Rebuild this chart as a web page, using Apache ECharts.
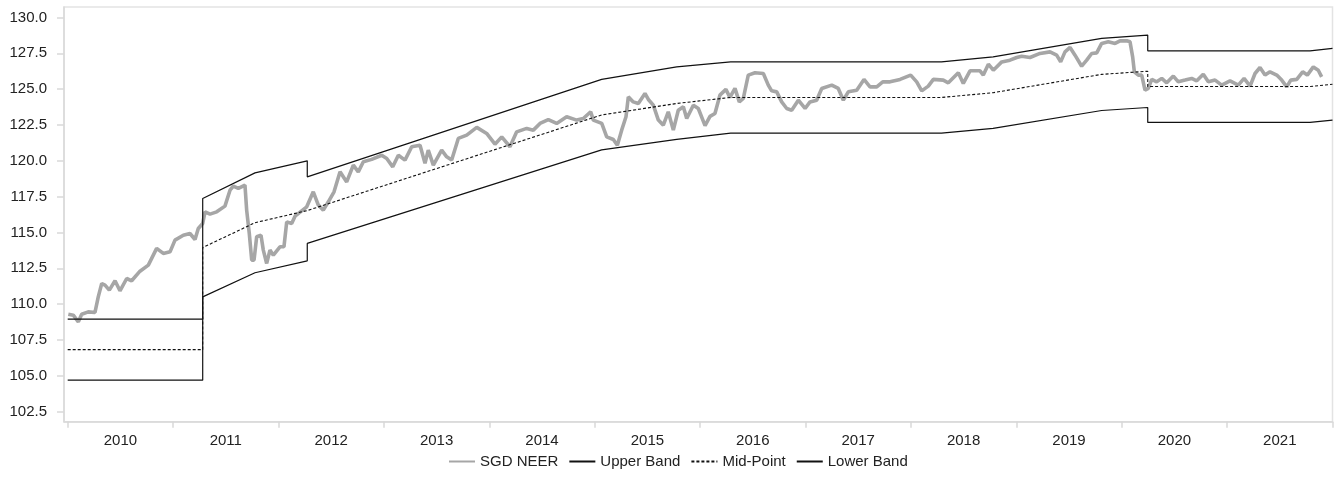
<!DOCTYPE html>
<html>
<head>
<meta charset="utf-8">
<script src="https://cdn.jsdelivr.net/npm/echarts@6/dist/echarts.min.js"></script>
<style>
html,body{margin:0;padding:0;background:#fff;}
#chart{width:1336px;height:497px;}
</style>
</head>
<body>
<div id="chart"></div>
<script>
// ---- data (decimal years) ----
var neerYears = [2010.006,2010.053,2010.101,2010.133,2010.195,2010.259,2010.290,2010.323,2010.354,2010.395,2010.449,2010.496,2010.560,2010.607,2010.686,2010.765,2010.844,2010.907,2010.971,2011.018,2011.097,2011.160,2011.208,2011.239,2011.281,2011.303,2011.350,2011.414,2011.492,2011.540,2011.571,2011.619,2011.682,2011.698,2011.723,2011.746,2011.768,2011.793,2011.834,2011.856,2011.888,2011.919,2011.951,2012.014,2012.052,2012.078,2012.125,2012.157,2012.268,2012.330,2012.378,2012.425,2012.473,2012.527,2012.584,2012.647,2012.710,2012.757,2012.805,2012.884,2012.979,2013.027,2013.084,2013.137,2013.200,2013.264,2013.343,2013.390,2013.421,2013.469,2013.548,2013.596,2013.643,2013.706,2013.786,2013.881,2013.975,2014.054,2014.118,2014.196,2014.260,2014.355,2014.418,2014.481,2014.560,2014.639,2014.734,2014.829,2014.892,2014.962,2014.987,2015.067,2015.114,2015.177,2015.215,2015.256,2015.297,2015.319,2015.366,2015.414,2015.477,2015.509,2015.556,2015.604,2015.651,2015.698,2015.746,2015.793,2015.841,2015.873,2015.936,2015.983,2016.047,2016.094,2016.141,2016.188,2016.245,2016.283,2016.331,2016.372,2016.410,2016.457,2016.521,2016.600,2016.647,2016.679,2016.727,2016.774,2016.822,2016.869,2016.932,2016.996,2017.043,2017.106,2017.154,2017.249,2017.311,2017.359,2017.406,2017.486,2017.555,2017.612,2017.676,2017.733,2017.802,2017.897,2017.998,2018.055,2018.103,2018.165,2018.213,2018.307,2018.355,2018.450,2018.497,2018.561,2018.656,2018.687,2018.735,2018.782,2018.862,2018.940,2019.004,2019.051,2019.130,2019.225,2019.320,2019.383,2019.421,2019.462,2019.510,2019.557,2019.620,2019.668,2019.715,2019.763,2019.810,2019.873,2019.937,2019.984,2020.048,2020.079,2020.104,2020.120,2020.158,2020.190,2020.221,2020.252,2020.285,2020.332,2020.380,2020.427,2020.490,2020.537,2020.601,2020.664,2020.712,2020.774,2020.822,2020.886,2020.949,2021.028,2021.106,2021.161,2021.218,2021.265,2021.312,2021.360,2021.407,2021.471,2021.518,2021.566,2021.604,2021.661,2021.717,2021.761,2021.818,2021.865,2021.897];
var neerValues = [109.30,109.23,108.77,109.30,109.46,109.42,110.51,111.44,111.33,110.98,111.63,110.93,111.79,111.63,112.30,112.72,113.89,113.54,113.65,114.47,114.81,114.93,114.51,115.28,115.63,116.44,116.28,116.44,116.84,117.95,118.23,118.07,118.30,116.56,114.93,113.07,113.07,114.70,114.81,113.77,112.84,113.77,113.42,114.00,114.00,115.74,115.63,116.14,116.79,117.84,116.91,116.56,117.14,117.84,119.23,118.53,119.70,119.23,119.93,120.10,120.39,120.16,119.58,120.39,120.05,120.98,121.09,119.82,120.74,119.70,120.74,120.28,120.05,121.56,121.79,122.33,121.91,121.16,121.67,120.98,122.02,122.26,122.14,122.61,122.88,122.61,123.07,122.84,122.95,123.42,122.84,122.61,121.67,121.49,121.09,122.14,123.07,124.46,124.11,124.00,124.70,124.28,123.88,122.84,122.49,123.42,122.14,123.53,123.77,122.95,123.88,123.65,122.45,123.10,123.30,124.58,124.98,124.42,125.05,124.11,124.35,125.98,126.14,126.09,125.28,124.88,124.81,124.11,123.65,123.53,124.23,123.65,124.11,124.23,125.05,125.28,125.05,124.23,124.81,124.93,125.68,125.16,125.16,125.51,125.51,125.68,125.98,125.51,124.88,125.21,125.68,125.63,125.44,126.14,125.40,126.28,126.28,125.98,126.74,126.32,126.90,127.02,127.21,127.30,127.21,127.49,127.60,127.37,126.90,127.60,127.91,127.37,126.60,127.02,127.49,127.53,128.19,128.30,128.19,128.37,128.37,128.30,127.25,126.21,125.98,125.98,124.93,125.05,125.68,125.51,125.75,125.44,125.91,125.51,125.63,125.75,125.58,126.04,125.51,125.63,125.28,125.58,125.28,125.75,125.21,126.09,126.51,125.98,126.21,125.98,125.63,125.16,125.63,125.68,126.21,125.98,126.55,126.32,125.86];

var bandYears = [2010.0,2011.281,2011.281,2011.777,2012.273,2012.273,2015.066,2015.778,2016.29,2018.29,2018.78,2019.81,2020.247,2020.247,2021.787,2022.0];
var upperBand = [108.95,108.95,117.37,119.16,120.00,118.88,125.68,126.55,126.90,126.90,127.25,128.54,128.77,127.67,127.67,127.84];
var midPoint  = [106.83,106.83,113.95,115.68,116.53,116.53,123.20,124.00,124.42,124.42,124.75,126.03,126.25,125.18,125.18,125.34];
var lowerBand = [104.70,104.70,110.51,112.19,113.02,114.24,120.76,121.50,121.93,121.93,122.26,123.51,123.72,122.68,122.68,122.84];

var yearTicks = [2010,2011,2012,2013,2014,2015,2016,2017,2018,2019,2020,2021,2022];
var yearLabelPos = [2010.5,2011.5,2012.5,2013.5,2014.5,2015.5,2016.5,2017.5,2018.5,2019.5,2020.5,2021.5];
var yTicks = [102.5,105,107.5,110,112.5,115,117.5,120,122.5,125,127.5,130];

function pairs(xs, ys){ return xs.map(function(x,i){ return [x, ys[i]]; }); }

var chart = echarts.init(document.getElementById('chart'), null, {renderer:'canvas'});
var FONT = 'Liberation Sans, Arial, sans-serif';
var axisGray = '#d9d9d9';
chart.setOption({
  animation: false,
  textStyle: {fontFamily: FONT},
  grid: {left: 64, right: 3.5, top: 7, bottom: 75.3, show: true, borderColor: '#e3e3e3', borderWidth: 1.5, containLabel: false},
  xAxis: {
    type: 'value', min: 2009.965, max: 2022.0,
    axisLine: {show: true, lineStyle: {color: axisGray, width: 1.5}},
    axisTick: {show: true, length: 6, lineStyle: {color: axisGray, width: 1.5}, customValues: yearTicks},
    axisLabel: {show: true, color: '#222', fontSize: 15, fontFamily: FONT, margin: 12,
      customValues: yearLabelPos, formatter: function(v){ return String(Math.floor(v)); }},
    splitLine: {show: false}
  },
  yAxis: {
    type: 'value', min: 101.8, max: 130.73,
    axisLine: {show: true, lineStyle: {color: axisGray, width: 1.5}},
    axisTick: {show: true, length: 7, lineStyle: {color: axisGray, width: 1.5}, customValues: yTicks},
    axisLabel: {show: true, color: '#222', fontSize: 15, fontFamily: FONT, margin: 17,
      customValues: yTicks, formatter: function(v){ return v.toFixed(1); }},
    splitLine: {show: false}
  },
  legend: {
    top: 449, left: 443,
    itemWidth: 26, itemHeight: 14, itemGap: 10,
    itemStyle: {opacity: 0},
    textStyle: {color: '#222', fontSize: 15, fontFamily: FONT},
    data: ['SGD NEER','Upper Band','Mid-Point','Lower Band']
  },
  series: [
    {name: 'SGD NEER', type: 'line', data: pairs(neerYears, neerValues), symbol: 'none', z: 1,
      lineStyle: {color: '#a6a6a6', width: 3.6}, itemStyle: {color: '#a6a6a6'}},
    {name: 'Upper Band', type: 'line', data: pairs(bandYears, upperBand), symbol: 'none', z: 2,
      lineStyle: {color: '#111', width: 1.2}, itemStyle: {color: '#111'}},
    {name: 'Mid-Point', type: 'line', data: pairs(bandYears, midPoint), symbol: 'none', z: 2,
      lineStyle: {color: '#111', width: 1.1, type: [3, 2]}, itemStyle: {color: '#111'}},
    {name: 'Lower Band', type: 'line', data: pairs(bandYears, lowerBand), symbol: 'none', z: 2,
      lineStyle: {color: '#111', width: 1.2}, itemStyle: {color: '#111'}}
  ]
});
</script>
</body>
</html>
